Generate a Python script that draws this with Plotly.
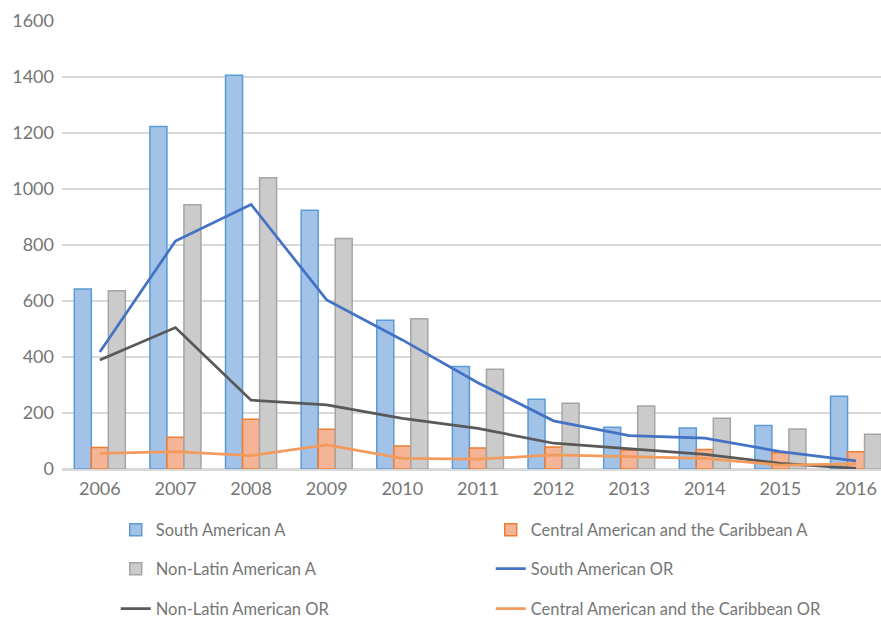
import plotly.graph_objects as go

years = ["2006", "2007", "2008", "2009", "2010", "2011", "2012", "2013", "2014", "2015", "2016"]

south_a = [643, 1223, 1406, 924, 531, 366, 249, 149, 146, 155, 260]
central_a = [77, 113, 178, 142, 82, 75, 79, 67, 70, 58, 62]
nonlatin_a = [637, 944, 1040, 823, 537, 356, 235, 225, 181, 143, 124]

south_or = [418, 814, 945, 604, 461, 308, 172, 119, 110, 62, 29]
nonlatin_or = [389, 505, 246, 229, 181, 145, 92, 71, 52, 20, 2]
central_or = [56, 62, 48, 86, 38, 35, 50, 44, 38, 14, 18]

FONT = "Lato"
TXT = "#767676"

fig = go.Figure()

fig.add_trace(go.Bar(x=years, y=south_a, name="South American A",
                     marker=dict(color="#a3c2e8", line=dict(color="#5b9bd5", width=1.5)),
                     legend="legend"))
fig.add_trace(go.Bar(x=years, y=central_a, name="Central American and the Caribbean A",
                     marker=dict(color="#f6b496", line=dict(color="#ed7d31", width=1.5)),
                     legend="legend"))
fig.add_trace(go.Bar(x=years, y=nonlatin_a, name="Non-Latin American A",
                     marker=dict(color="#cbcbcb", line=dict(color="#a5a5a5", width=1.5)),
                     legend="legend2"))
fig.add_trace(go.Scatter(x=years, y=south_or, name="South American OR", mode="lines",
                         line=dict(color="#4472c4", width=2.75), legend="legend2"))
fig.add_trace(go.Scatter(x=years, y=nonlatin_or, name="Non-Latin American OR", mode="lines",
                         line=dict(color="#595959", width=2.75), legend="legend3"))
fig.add_trace(go.Scatter(x=years, y=central_or, name="Central American and the Caribbean OR", mode="lines",
                         line=dict(color="#f29b5c", width=2.75), legend="legend3"))

leg_common = dict(orientation="h", xanchor="left", yanchor="middle",
                  font=dict(family=FONT, size=16.5, color=TXT),
                  entrywidth=330, entrywidthmode="pixels",
                  bgcolor="rgba(0,0,0,0)", traceorder="normal")

fig.update_layout(
    width=881, height=618,
    margin=dict(l=62, r=0, t=21, b=149, autoexpand=False),
    paper_bgcolor="white", plot_bgcolor="white",
    barmode="group", bargap=0.325, bargroupgap=0,
    font=dict(family=FONT, color=TXT),
    xaxis=dict(type="category", range=[-0.5, 10.33],
               tickfont=dict(family=FONT, size=18, color=TXT),
               showgrid=False, showline=True, linecolor="#d9d9d9", linewidth=1.5,
               ticks="", ticklabelstandoff=3, automargin=False),
    yaxis=dict(range=[0, 1600], dtick=200,
               tickfont=dict(family=FONT, size=18, color=TXT),
               showgrid=True, gridcolor="#d9d9d9", gridwidth=1.5,
               zeroline=True, zerolinecolor="#d9d9d9", zerolinewidth=1.5,
               showline=False, ticks="", ticklabelstandoff=7, automargin=False),
    legend=dict(x=0.0656, y=-0.136, **leg_common),
    legend2=dict(x=0.0656, y=-0.223, **leg_common),
    legend3=dict(x=0.0656, y=-0.3125, **leg_common),
)

fig.write_html("out.html")
